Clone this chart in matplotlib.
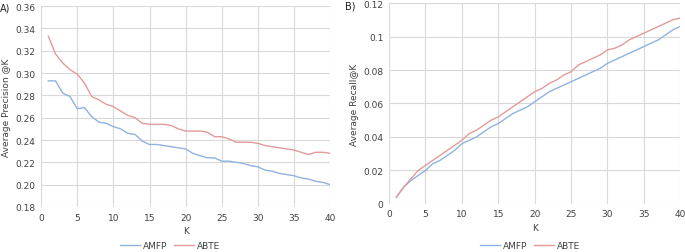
import matplotlib.pyplot as plt
from matplotlib.ticker import FuncFormatter, MultipleLocator

k = list(range(1, 41))

precision_amfp = [0.293, 0.293, 0.282, 0.279, 0.268, 0.269, 0.261, 0.256, 0.255, 0.252,
                  0.250, 0.246, 0.245, 0.239, 0.236, 0.236, 0.235, 0.234, 0.233, 0.232,
                  0.228, 0.226, 0.224, 0.224, 0.221, 0.221, 0.220, 0.219, 0.217, 0.216,
                  0.213, 0.212, 0.210, 0.209, 0.208, 0.206, 0.205, 0.203, 0.202, 0.200]
precision_abte = [0.333, 0.317, 0.309, 0.303, 0.299, 0.291, 0.279, 0.276, 0.272, 0.270,
                  0.266, 0.262, 0.260, 0.255, 0.254, 0.254, 0.254, 0.253, 0.250, 0.248,
                  0.248, 0.248, 0.247, 0.243, 0.243, 0.241, 0.238, 0.238, 0.238, 0.237,
                  0.235, 0.234, 0.233, 0.232, 0.231, 0.229, 0.227, 0.229, 0.229, 0.228]

recall_amfp = [0.004, 0.010, 0.014, 0.017, 0.020, 0.024, 0.026, 0.029, 0.032, 0.036,
               0.038, 0.040, 0.043, 0.046, 0.048, 0.051, 0.054, 0.056, 0.058, 0.061,
               0.064, 0.067, 0.069, 0.071, 0.073, 0.075, 0.077, 0.079, 0.081, 0.084,
               0.086, 0.088, 0.090, 0.092, 0.094, 0.096, 0.098, 0.101, 0.104, 0.106]
recall_abte = [0.004, 0.010, 0.015, 0.020, 0.023, 0.026, 0.029, 0.032, 0.035, 0.038,
               0.042, 0.044, 0.047, 0.050, 0.052, 0.055, 0.058, 0.061, 0.064, 0.067,
               0.069, 0.072, 0.074, 0.077, 0.079, 0.083, 0.085, 0.087, 0.089, 0.092,
               0.093, 0.095, 0.098, 0.100, 0.102, 0.104, 0.106, 0.108, 0.110, 0.111]

BLUE = "#8fb3e0"
RED = "#e39a9a"
GRID = "#d9d9d9"
TEXT = "#404040"

plt.rcParams["font.family"] = "DejaVu Sans"
plt.rcParams["font.size"] = 6.5

fig = plt.figure(figsize=(6.85, 2.53), dpi=100)


def style_axes(ax, ylim, ystep, fmt, legend_x):
    ax.set_xlim(0, 40)
    ax.set_ylim(*ylim)
    ax.xaxis.set_major_locator(MultipleLocator(5))
    ax.yaxis.set_major_locator(MultipleLocator(ystep))
    ax.yaxis.set_major_formatter(FuncFormatter(fmt))
    ax.grid(True, color=GRID, linewidth=0.8)
    ax.set_axisbelow(True)
    for s in ax.spines.values():
        s.set_visible(False)
    ax.tick_params(length=0, colors=TEXT, labelsize=6.5, pad=4)
    ax.set_xlabel("K", color=TEXT, fontsize=6.5, labelpad=3)
    ax.legend(loc="center", bbox_to_anchor=(legend_x, 0.026), bbox_transform=fig.transFigure,
              ncol=2, frameon=False, fontsize=6.5, handlelength=2.2, columnspacing=0.8,
              handletextpad=0.3, labelcolor=TEXT, borderpad=0)


ax1 = fig.add_axes([0.060, 0.178, 0.422, 0.794])
ax1.plot(k, precision_amfp, color=BLUE, linewidth=1.0, label="AMFP")
ax1.plot(k, precision_abte, color=RED, linewidth=1.0, label="ABTE")
ax1.set_ylabel("Average Precision @K", color=TEXT, fontsize=6.5, labelpad=3)
style_axes(ax1, (0.18, 0.36), 0.02, lambda v, p: f"{v:.2f}", 0.248)
fig.text(0.0, 0.965, "A)", fontsize=7, color="#202020", va="center")

ax2 = fig.add_axes([0.568, 0.190, 0.425, 0.794])
ax2.plot(k, recall_amfp, color=BLUE, linewidth=1.0, label="AMFP")
ax2.plot(k, recall_abte, color=RED, linewidth=1.0, label="ABTE")
ax2.set_ylabel("Average Recall@K", color=TEXT, fontsize=6.5, labelpad=3)
style_axes(ax2, (0, 0.12), 0.02, lambda v, p: f"{round(v, 2):g}", 0.774)
fig.text(0.503, 0.975, "B)", fontsize=7, color="#202020", va="center")

fig.savefig("out.png", dpi=100, facecolor="white")
